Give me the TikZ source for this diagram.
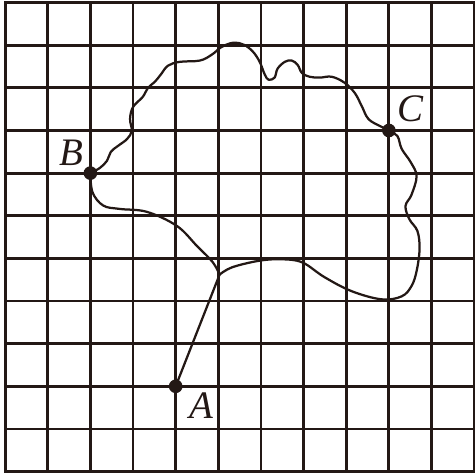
\documentclass[tikz,border=0pt]{standalone}
\usepackage{fontspec}
\setmainfont{Liberation Serif}
\usetikzlibrary{positioning}
\definecolor{ink}{RGB}{35,24,21}

\begin{document}
\begin{tikzpicture}[line join=round, line cap=round,
  dot/.style={circle, fill=ink, inner sep=0pt, minimum size=3.2mm},
  lbl/.style={font=\fontsize{26}{26}\selectfont\itshape, text=ink, inner sep=1pt},
  stem/.style={draw=ink, line width=1.5pt}]
  \useasboundingbox (-0.12,-0.08) rectangle (11.02,11.06);
  \draw[ink, line width=1.9pt, line cap=rect] (0,0) grid (11,11);
  \node[dot] (A) at (4,2) {};
  \node[dot] (B) at (2,7) {};
  \node[dot] (C) at (9,8) {};
  \coordinate (J) at (5.03,4.62);
  \node[lbl, below right=0cm and 0.16cm of A] (la) {A};
  \node[lbl, above left=0.02cm and 0cm of B] (lb) {B};
  \node[lbl, above right=0.04cm and 0.04cm of C] (lc) {C};
  % stalk and inner edge
  \draw[stem] (A.center) -- (J);
  \draw[stem] plot[smooth, tension=0.6] coordinates {(B.center) (2.05,6.55) (2.3,6.24)
    (2.69,6.16) (3.33,6.09) (4.03,5.76) (4.5,5.29) (4.87,4.91) (J)};
  % outer edge of the leaf
  \draw[stem] plot[smooth, tension=0.6] coordinates {(B.center) (2.22,7.12) (2.39,7.29)
    (2.48,7.5) (2.65,7.64) (2.86,7.8) (2.97,7.99) (2.93,8.27) (3.0,8.55) (3.23,8.79)
    (3.35,9.0) (3.51,9.14) (3.65,9.31) (3.82,9.52) (4.1,9.61) (4.57,9.64) (4.85,9.78)
    (5.08,9.96) (5.36,10.06) (5.6,10.01) (5.81,9.85) (5.97,9.61) (6.09,9.31) (6.18,9.19)
    (6.32,9.24) (6.39,9.45) (6.56,9.61) (6.72,9.64) (6.86,9.54) (6.96,9.35) (7.14,9.26)
    (7.38,9.24) (7.66,9.26) (7.96,9.12) (8.2,8.88) (8.36,8.58) (8.52,8.27) (8.78,8.11)
    (C.center) (9.2,7.87) (9.3,7.57) (9.51,7.26) (9.65,6.93) (9.53,6.49) (9.39,6.23)
    (9.48,5.92) (9.67,5.64) (9.72,5.22) (9.65,4.7) (9.53,4.35) (9.3,4.11) (8.83,4.04)
    (8.13,4.23) (7.49,4.56) (6.96,4.91) (6.44,4.98) (5.93,4.94) (5.32,4.79) (J)};
\end{tikzpicture}
\end{document}
